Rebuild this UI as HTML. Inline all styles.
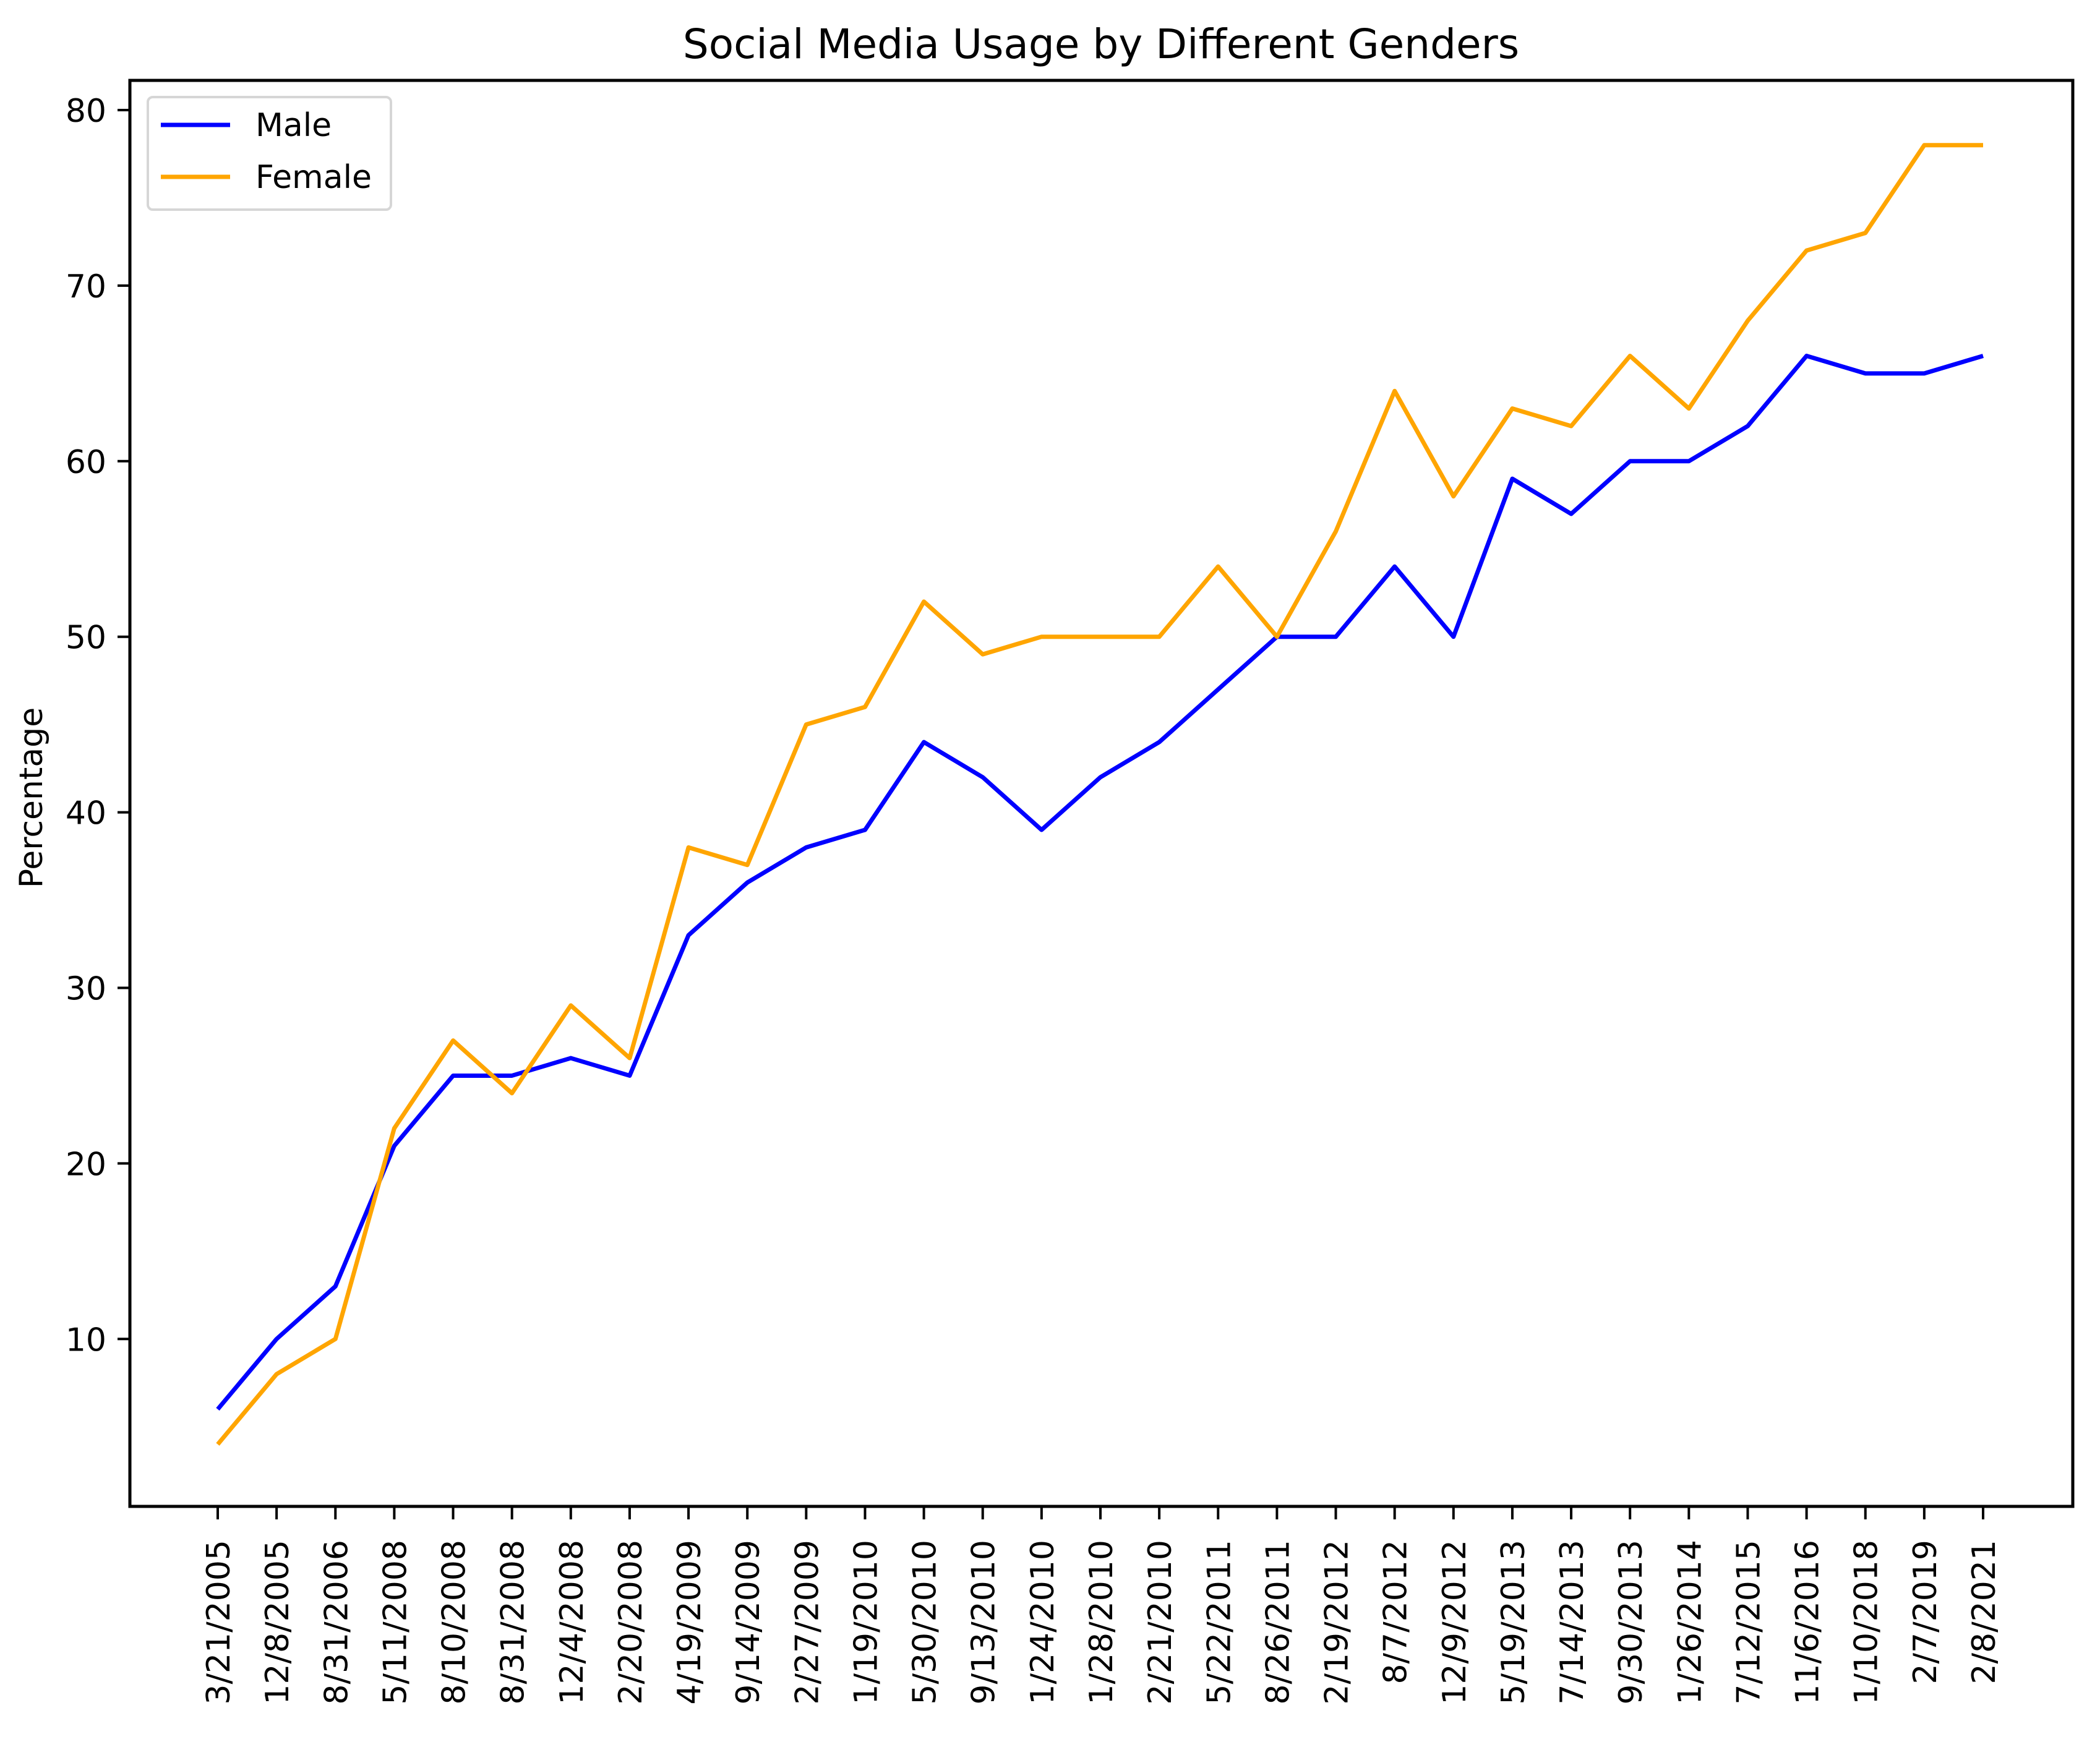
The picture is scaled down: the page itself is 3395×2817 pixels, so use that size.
<!DOCTYPE html>
<html><head><meta charset="utf-8"><style>html,body{margin:0;padding:0;background:#fff;overflow:hidden}svg{display:block}text{font-family:"DejaVu Sans","Liberation Sans",sans-serif;fill:#000}</style></head>
<body>
<svg id="chart" width="3395" height="2817" viewBox="0 0 3395 2817" xmlns="http://www.w3.org/2000/svg">
<text x="1780" y="94" font-size="66" text-anchor="middle">Social Media Usage by Different Genders</text>
<text transform="translate(68,1290) rotate(-90)" font-size="52" text-anchor="middle">Percentage</text>
<g id="yticks"></g>
<g id="xticks"></g>
<g id="series"></g>
<rect x="210" y="130" width="3141" height="2306" fill="none" stroke="#000" stroke-width="5"/>
<g>
<rect x="239" y="157" width="393" height="182" rx="8" fill="#fff" stroke="#d6d6d6" stroke-width="4"/>
<line x1="260" y1="202" x2="372" y2="202" stroke="#0000ff" stroke-width="7"/>
<text x="413" y="220" font-size="52">Male</text>
<line x1="260" y1="286" x2="372" y2="286" stroke="#ffa500" stroke-width="7"/>
<text x="413" y="304" font-size="52">Female</text>
</g>
</svg>
<script>
const categories = ["3/21/2005","12/8/2005","8/31/2006","5/11/2008","8/10/2008","8/31/2008","12/4/2008","2/20/2008","4/19/2009","9/14/2009","2/27/2009","1/19/2010","5/30/2010","9/13/2010","1/24/2010","1/28/2010","2/21/2010","5/22/2011","8/26/2011","2/19/2012","8/7/2012","12/9/2012","5/19/2013","7/14/2013","9/30/2013","1/26/2014","7/12/2015","11/6/2016","1/10/2018","2/7/2019","2/8/2021"];
const maleValues = [6,10,13,21,25,25,26,25,33,36,38,39,44,42,39,42,44,47,50,50,54,50,59,57,60,60,62,66,65,65,66];
const femaleValues = [4,8,10,22,27,24,29,26,38,37,45,46,52,49,50,50,50,54,50,56,64,58,63,62,66,63,68,72,73,78,78];
const yTickValues = [10,20,30,40,50,60,70,80];

const NS = "http://www.w3.org/2000/svg";
const x0 = 352, x1 = 3206;
function xScale(i){ return x0 + i*(x1-x0)/(categories.length-1); }
function yScale(v){ return 178 + (80 - v)*28.39; }
function mk(tag, attrs, parent){ const e=document.createElementNS(NS,tag); for(const k in attrs) e.setAttribute(k,attrs[k]); parent.appendChild(e); return e; }

const yg = document.getElementById('yticks');
yTickValues.forEach(v=>{
  const y=yScale(v);
  const t=mk('line',{x1:190,y1:y,x2:210,y2:y,stroke:'#000','stroke-width':4},yg);
  
  
  const l=mk('text',{x:172,y:y+19,'font-size':52,'text-anchor':'end'},yg);
  l.textContent=v;
  
  
});
const xg = document.getElementById('xticks');
categories.forEach((c,i)=>{
  const x=xScale(i);
  const t=mk('line',{x1:x,y1:2436,x2:x,y2:2457,stroke:'#000','stroke-width':4},xg);
  
  
  const l=mk('text',{transform:`translate(${x+19},2490) rotate(-90)`,'font-size':52,'text-anchor':'end'},xg);
  l.textContent=c;
  
  
});
const sg = document.getElementById('series');
function drawLine(vals,color,name){
  const pts=vals.map((v,i)=>xScale(i)+','+yScale(v)).join(' ');
  const p=mk('polyline',{points:pts,fill:'none',stroke:color,'stroke-width':7,'stroke-linejoin':'round'},sg);
  
  
}
drawLine(maleValues,'#0000ff','male-line');
drawLine(femaleValues,'#ffa500','female-line');
</script>
</body></html>
